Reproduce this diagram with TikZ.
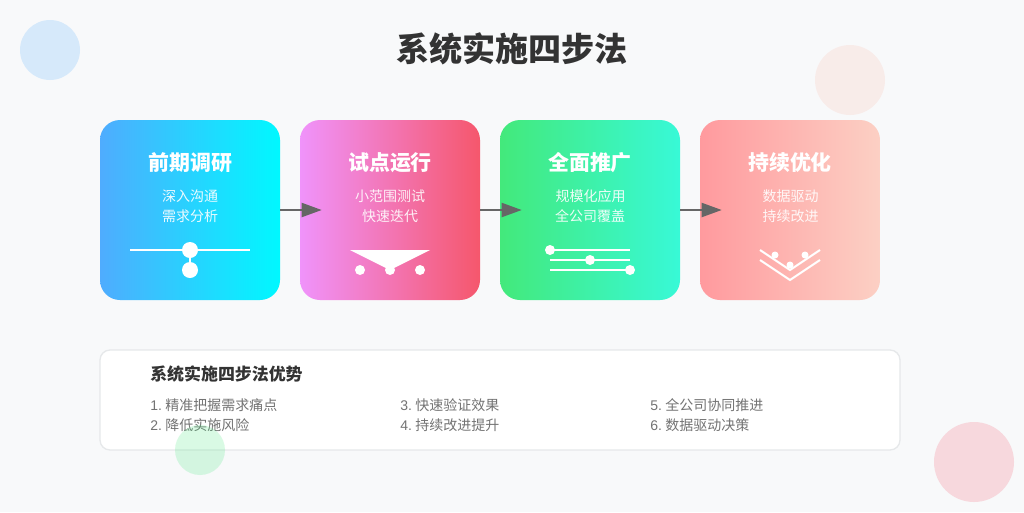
\documentclass[tikz,border=0pt]{standalone}
\usepackage{fontspec}
\setmainfont{Liberation Sans}
\newfontfamily\cjk{Noto Sans CJK SC}
\usetikzlibrary{arrows.meta}
\definecolor{pagebg}{HTML}{F8F9FA}
\definecolor{inkdark}{HTML}{333333}
\definecolor{inkgrey}{HTML}{666666}
\definecolor{inklist}{HTML}{737373}
\definecolor{panelline}{HTML}{E6E8EA}
\newcommand{\numtext}[2]{#1\hspace{2.6pt}{\cjk #2}}

\begin{document}
\begin{tikzpicture}[x=0.75pt,y=-0.75pt,>={Triangle[length=15pt,width=10.5pt]},node distance=150pt,
    card/.style={minimum width=135pt,minimum height=135pt,rounded corners=15pt,inner sep=0pt},
    cardhead/.style={text=white,font=\fontsize{15.7pt}{18pt}\cjk\bfseries,inner sep=0pt},
    cardtext/.style={text=white,font=\fontsize{10.5pt}{15pt}\cjk,inner sep=0pt,opacity=0.9},
    perk/.style={anchor=west,text=inklist,font=\fontsize{10.5pt}{15pt}\selectfont,inner sep=0pt},
    flow/.style={->,draw=inkgrey,line width=1.5pt},
    icon/.style={draw=white,line width=1.5pt},
    dot/.style={fill=white}]
  \useasboundingbox[fill=pagebg] (0,0) rectangle (1024,512);
  % soft circles behind everything
  \fill[color={rgb,255:red,79;green,172;blue,254},opacity=0.2] (50,50) circle (30);
  \fill[color={rgb,255:red,250;green,208;blue,196},opacity=0.3] (850,80) circle (35);
  \fill[color={rgb,255:red,245;green,87;blue,108},opacity=0.2] (974,462) circle (40);

  \node[font=\fontsize{24.8pt}{28pt}\cjk\bfseries,text=inkdark,inner sep=0pt] (headline) at (512,48.5) {系统实施四步法};

  % cards
  \node[card,left color={rgb,255:red,79;green,172;blue,254},right color={rgb,255:red,0;green,248;blue,255}] (research) at (190,210) {};
  \node[card,left color={rgb,255:red,240;green,147;blue,251},right color={rgb,255:red,245;green,87;blue,108}] (pilot) [right of=research] {};
  \node[card,left color={rgb,255:red,67;green,233;blue,123},right color={rgb,255:red,56;green,249;blue,215}] (rollout) [right of=pilot] {};
  \node[card,left color={rgb,255:red,255;green,154;blue,158},right color={rgb,255:red,252;green,208;blue,196}] (tuning) [right of=rollout] {};

  \node[cardhead] (researchhead) at (190.5,163) {前期调研};
  \node[cardtext] (researcha) at (190,196) {深入沟通};
  \node[cardtext] (researchb) at (190,216) {需求分析};
  \node[cardhead] (pilothead) at (390,163) {试点运行};
  \node[cardtext] (pilota) at (390,196) {小范围测试};
  \node[cardtext] (pilotb) at (390,216) {快速迭代};
  \node[cardhead] (rollouthead) at (590,163) {全面推广};
  \node[cardtext] (rollouta) at (590.5,196) {规模化应用};
  \node[cardtext] (rolloutb) at (590,216) {全公司覆盖};
  \node[cardhead] (tuninghead) at (790,163) {持续优化};
  \node[cardtext] (tuninga) at (790.5,196) {数据驱动};
  \node[cardtext] (tuningb) at (790.5,216) {持续改进};

  % arrows stop inside the next card
  \coordinate (pilotin) at ([xshift=16.5pt]pilot.west);
  \coordinate (rolloutin) at ([xshift=16.5pt]rollout.west);
  \coordinate (tuningin) at ([xshift=16.5pt]tuning.west);
  \draw[flow] (research.east) -- (pilotin);
  \draw[flow] (pilot.east) -- (rolloutin);
  \draw[flow] (rollout.east) -- (tuningin);

  % icons
  \draw[icon] (130,250) -- (250,250);
  \draw[icon] (190,250) -- (190,270);
  \fill[dot] (190,250) circle (8);
  \fill[dot] (190,270) circle (8);

  \fill[dot] (350,250) -- (430,250) -- (390,270) -- cycle;
  \fill[dot] (360,270) circle (5);
  \fill[dot] (390,270) circle (5);
  \fill[dot] (420,270) circle (5);

  \draw[icon] (550,250) -- (630,250);
  \draw[icon] (550,260) -- (630,260);
  \draw[icon] (550,270) -- (630,270);
  \fill[dot] (550,250) circle (5);
  \fill[dot] (590,260) circle (5);
  \fill[dot] (630,270) circle (5);

  \draw[icon] (760,250) -- (790,270) -- (820,250);
  \draw[icon] (760,260) -- (790,280) -- (820,260);
  \fill[dot] (775,255) circle (3.5);
  \fill[dot] (790,265) circle (3.5);
  \fill[dot] (805,255) circle (3.5);

  % summary panel
  \node[draw=panelline,fill=white,line width=1pt,rounded corners=7.5pt,minimum width=600pt,minimum height=75pt,inner sep=0pt] (panel) at (500,400) {};
  \node[anchor=west,text=inkdark,font=\fontsize{12.7pt}{15pt}\cjk\bfseries,inner sep=0pt] (paneltitle) at (150,374.5) {系统实施四步法优势};
  \node[perk] (perka) at (150,405) {\numtext{1.}{精准把握需求痛点}};
  \node[perk] (perkb) at (150,425) {\numtext{2.}{降低实施风险}};
  \node[perk] (perkc) at (400,405) {\numtext{3.}{快速验证效果}};
  \node[perk] (perkd) at (400,425) {\numtext{4.}{持续改进提升}};
  \node[perk] (perke) at (650,405) {\numtext{5.}{全公司协同推进}};
  \node[perk] (perkf) at (650,425) {\numtext{6.}{数据驱动决策}};

  \fill[color={rgb,255:red,67;green,233;blue,123},opacity=0.2] (200,450) circle (25);
\end{tikzpicture}
\end{document}
